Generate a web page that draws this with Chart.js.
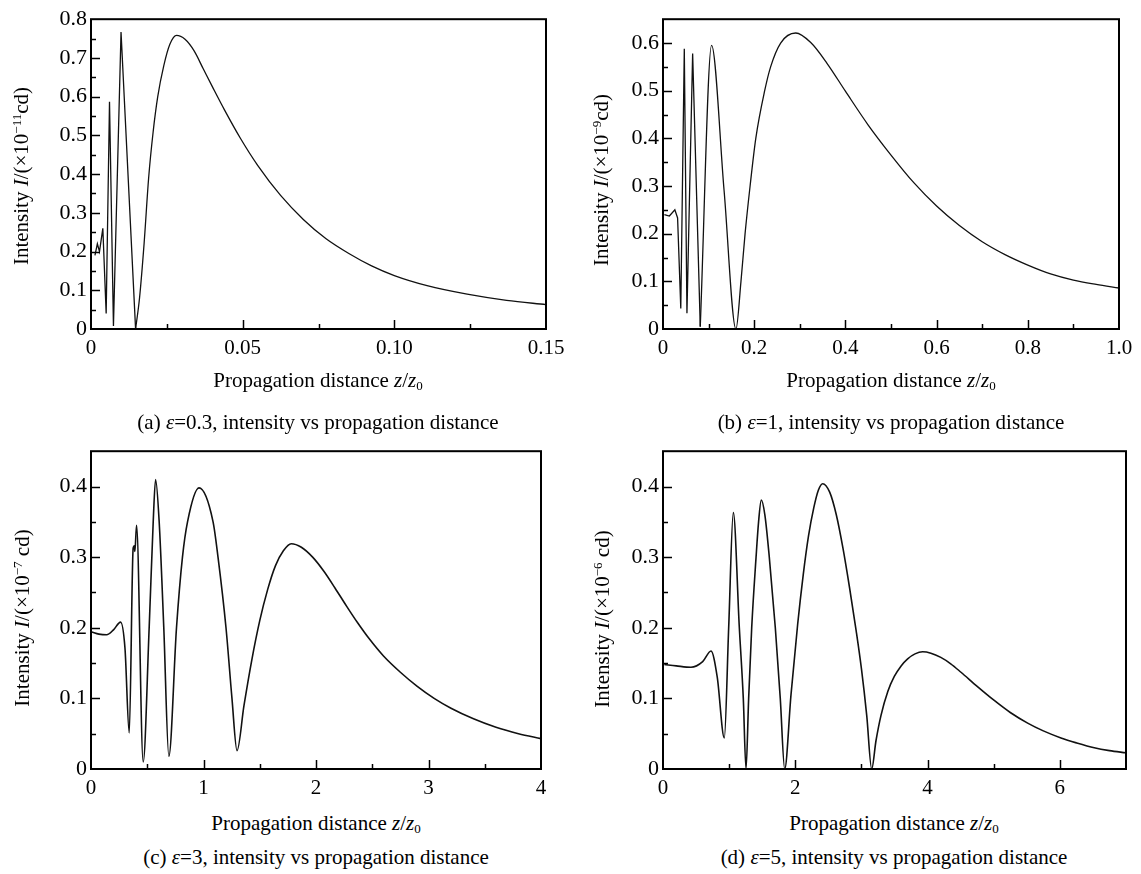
<!DOCTYPE html>
<html>
<head>
<meta charset="utf-8">
<script src="https://cdn.jsdelivr.net/npm/chart.js@4.4.1/dist/chart.umd.min.js"></script>
<style>
  html, body { margin: 0; padding: 0; background: #fff; }
  body { width: 1141px; height: 874px; position: relative; overflow: hidden;
         font-family: "Liberation Serif", "Times New Roman", serif; color: #000; }
  canvas { position: absolute; }
  .t { position: absolute; white-space: nowrap; font-size: 21px; line-height: 21px; }
  .xt, .cap { transform: translateX(-50%); }
  .yt { transform: translate(-50%, -50%) rotate(-90deg); }
  sup { font-size: 0.62em; vertical-align: 0.5em; line-height: 0; }
  sub { font-size: 0.62em; vertical-align: -0.25em; line-height: 0; }
</style>
</head>
<body>
<canvas id="ca"></canvas>
<canvas id="cb"></canvas>
<canvas id="cc"></canvas>
<canvas id="cd"></canvas>

<div class="t yt" style="left:21px; top:176px;">Intensity <i>I</i>/(×10<sup>−11</sup>cd)</div>
<div class="t xt" style="left:318px; top:370px;">Propagation distance <i>z</i>/<i>z</i><sub>0</sub></div>
<div class="t cap" style="left:318px; top:412px;">(a) <i>ε</i>=0.3, intensity vs propagation distance</div>

<div class="t yt" style="left:601px; top:180px;">Intensity <i>I</i>/(×10<sup>−9</sup>cd)</div>
<div class="t xt" style="left:891px; top:370px;">Propagation distance <i>z</i>/<i>z</i><sub>0</sub></div>
<div class="t cap" style="left:891px; top:412px;">(b) <i>ε</i>=1, intensity vs propagation distance</div>

<div class="t yt" style="left:22px; top:618px;">Intensity <i>I</i>/(×10<sup>−7</sup> cd)</div>
<div class="t xt" style="left:316px; top:813px;">Propagation distance <i>z</i>/<i>z</i><sub>0</sub></div>
<div class="t cap" style="left:316px; top:847px;">(c) <i>ε</i>=3, intensity vs propagation distance</div>

<div class="t yt" style="left:602px; top:619px;">Intensity <i>I</i>/(×10<sup>−6</sup> cd)</div>
<div class="t xt" style="left:894px; top:813px;">Propagation distance <i>z</i>/<i>z</i><sub>0</sub></div>
<div class="t cap" style="left:894px; top:847px;">(d) <i>ε</i>=5, intensity vs propagation distance</div>

<script>
// ---------- data ----------
// (a) epsilon = 0.3, intensity in 1e-11 cd
const aX = [0.0013, 0.0021, 0.0028, 0.0039, 0.0050, 0.0061, 0.0074, 0.0099, 0.0147,
            0.0160, 0.0175, 0.0190, 0.0205, 0.0220, 0.0240, 0.0260, 0.0282, 0.0310, 0.0340,
            0.0370, 0.0400, 0.0440, 0.0493, 0.0550, 0.0625, 0.0700, 0.0775, 0.0850, 0.0925,
            0.1000, 0.1108, 0.124, 0.137, 0.150];
const aY = [0.19, 0.22, 0.20, 0.26, 0.04, 0.587, 0.008, 0.767, 0.0,
            0.08, 0.22, 0.39, 0.51, 0.60, 0.68, 0.735, 0.758, 0.748, 0.718,
            0.672, 0.626, 0.566, 0.492, 0.422, 0.345, 0.283, 0.233, 0.195, 0.163,
            0.138, 0.112, 0.090, 0.074, 0.063];
// (b) epsilon = 1, intensity in 1e-9 cd
const bX = [0.003, 0.014, 0.026, 0.032, 0.039, 0.0467, 0.0525, 0.065, 0.0817,
            0.1065, 0.134, 0.160, 0.171, 0.180, 0.191, 0.2035, 0.223, 0.236, 0.258, 0.291,
            0.324, 0.36, 0.40, 0.45, 0.50, 0.55, 0.60, 0.65, 0.70, 0.75, 0.80,
            0.85, 0.90, 0.95, 1.0];
const bY = [0.240, 0.237, 0.250, 0.233, 0.043, 0.588, 0.033, 0.578, 0.005,
            0.595, 0.29, 0.0, 0.10, 0.20, 0.30, 0.40, 0.50, 0.55, 0.60, 0.621,
            0.601, 0.557, 0.499, 0.428, 0.365, 0.307, 0.258, 0.217, 0.183, 0.156, 0.134,
            0.1155, 0.1025, 0.0935, 0.086];
// (c) epsilon = 3, intensity in 1e-7 cd
const cX = [0.006, 0.07, 0.139, 0.2, 0.263, 0.302, 0.34, 0.375, 0.385, 0.39, 0.405, 0.464,
            0.517, 0.553, 0.574, 0.606, 0.647, 0.692, 0.76, 0.813, 0.858, 0.96, 1.085, 1.129,
            1.2, 1.253, 1.298, 1.36, 1.43, 1.50, 1.57, 1.64, 1.71, 1.78, 1.87, 1.97, 2.07,
            2.17, 2.27, 2.37, 2.47, 2.6, 2.75, 2.9, 3.05, 3.2, 3.4, 3.6, 3.8, 4.0];
const cY = [0.194, 0.191, 0.190, 0.197, 0.208, 0.171, 0.051, 0.313, 0.316, 0.308, 0.345, 0.01,
            0.2, 0.35, 0.41, 0.35, 0.2, 0.018, 0.2, 0.3, 0.35, 0.398, 0.35, 0.3,
            0.2, 0.1, 0.026, 0.09, 0.155, 0.210, 0.254, 0.288, 0.309, 0.319, 0.314, 0.300, 0.280,
            0.256, 0.231, 0.207, 0.185, 0.160, 0.137, 0.117, 0.100, 0.086, 0.071, 0.059, 0.050, 0.043];
// (d) epsilon = 5, intensity in 1e-6 cd
const dX = [0.02, 0.2, 0.423, 0.6, 0.726, 0.82, 0.927, 0.993, 1.063, 1.154, 1.214, 1.255,
            1.295, 1.341, 1.407, 1.445, 1.486, 1.54, 1.607, 1.698, 1.773, 1.84,
            1.935, 2.036, 2.12, 2.2, 2.28, 2.35, 2.414, 2.52, 2.62, 2.72, 2.82, 2.92, 3.00,
            3.08, 3.155, 3.22, 3.296, 3.4, 3.497, 3.6, 3.699, 3.81, 3.926, 4.05, 4.2, 4.35,
            4.505, 4.75, 5.008, 5.25, 5.513, 5.75, 6.017, 6.25, 6.52, 6.75, 7.0];
const dY = [0.148, 0.146, 0.144, 0.152, 0.167, 0.13, 0.044, 0.2, 0.363, 0.2, 0.1, 0.0,
            0.1, 0.2, 0.3, 0.35, 0.381, 0.36, 0.3, 0.2, 0.1, 0.0,
            0.105, 0.205, 0.275, 0.33, 0.37, 0.395, 0.404, 0.392, 0.360, 0.313, 0.257, 0.196, 0.142,
            0.076, 0.0, 0.04, 0.076, 0.11, 0.131, 0.146, 0.156, 0.163, 0.166, 0.164, 0.158, 0.149,
            0.137, 0.117, 0.097, 0.080, 0.065, 0.054, 0.044, 0.037, 0.030, 0.026, 0.023];

// ---------- tick labels ----------
const aXTickVals = [0, 0.05, 0.10, 0.15];
const aXTicks = ["0", "0.05", "0.10", "0.15"];
const aYTickVals = [0, 0.1, 0.2, 0.3, 0.4, 0.5, 0.6, 0.7, 0.8];
const aYTicks = ["0", "0.1", "0.2", "0.3", "0.4", "0.5", "0.6", "0.7", "0.8"];

const bXTickVals = [0, 0.2, 0.4, 0.6, 0.8, 1.0];
const bXTicks = ["0", "0.2", "0.4", "0.6", "0.8", "1.0"];
const bYTickVals = [0, 0.1, 0.2, 0.3, 0.4, 0.5, 0.6];
const bYTicks = ["0", "0.1", "0.2", "0.3", "0.4", "0.5", "0.6"];

const cXTickVals = [0, 1, 2, 3, 4];
const cXTicks = ["0", "1", "2", "3", "4"];
const cYTickVals = [0, 0.1, 0.2, 0.3, 0.4];
const cYTicks = ["0", "0.1", "0.2", "0.3", "0.4"];

const dXTickVals = [0, 2, 4, 6];
const dXTicks = ["0", "2", "4", "6"];
const dYTickVals = [0, 0.1, 0.2, 0.3, 0.4];
const dYTicks = ["0", "0.1", "0.2", "0.3", "0.4"];

// ---------- drawing ----------
const FONT = '"Liberation Serif", "Times New Roman", serif';
const PADL = 60, PADT = 12, PADR = 30, PADB = 40;

function isMajor(v, majors) { return majors.some(m => Math.abs(m - v) < 1e-7); }

const frame = {
  id: 'frame',
  afterDatasetsDraw(chart, args, opts) {
    const ctx = chart.ctx, a = chart.chartArea;
    ctx.save();
    ctx.strokeStyle = '#000';
    ctx.lineWidth = 1.5;
    const xs = chart.scales.x, ys = chart.scales.y;
    xs.ticks.forEach(t => {
      if (Math.abs(t.value - xs.min) < 1e-9 || Math.abs(t.value - xs.max) < 1e-9) return;
      const len = isMajor(t.value, opts.xMaj) ? 9 : 5;
      const p = Math.round(xs.getPixelForValue(t.value)) + 0.5;
      ctx.beginPath(); ctx.moveTo(p, a.bottom); ctx.lineTo(p, a.bottom - len); ctx.stroke();
    });
    ys.ticks.forEach(t => {
      if (Math.abs(t.value - ys.min) < 1e-9 || Math.abs(t.value - ys.max) < 1e-9) return;
      const len = isMajor(t.value, opts.yMaj) ? 9 : 5;
      const p = Math.round(ys.getPixelForValue(t.value)) + 0.5;
      ctx.beginPath(); ctx.moveTo(a.left, p); ctx.lineTo(a.left + len, p); ctx.stroke();
    });
    ctx.lineWidth = 2;
    ctx.strokeRect(a.left, a.top, a.right - a.left, a.bottom - a.top);
    ctx.restore();
  }
};

function panel(id, box, xs, ys, linearUntil, lw, xr, yr) {
  const cv = document.getElementById(id);
  const W = box.R - box.L + PADL + PADR, H = box.B - box.T + PADT + PADB;
  cv.width = W; cv.height = H;
  cv.style.left = (box.L - PADL) + 'px';
  cv.style.top = (box.T - PADT) + 'px';
  cv.style.width = W + 'px'; cv.style.height = H + 'px';

  const pts = xs.map((x, i) => ({ x: x, y: ys[i] }));
  const base = { borderColor: '#111', borderWidth: lw, pointRadius: 0, fill: false };
  const datasets = [];
  if (linearUntil > 0) {
    datasets.push(Object.assign({}, base, { data: pts.slice(0, linearUntil + 1), tension: 0 }));
    datasets.push(Object.assign({}, base, { data: pts.slice(linearUntil), cubicInterpolationMode: 'monotone' }));
  } else {
    datasets.push(Object.assign({}, base, { data: pts, cubicInterpolationMode: 'monotone' }));
  }

  new Chart(cv, {
    type: 'line',
    data: { datasets: datasets },
    options: {
      responsive: false, maintainAspectRatio: false, devicePixelRatio: 1, animation: false,
      events: [],
      layout: { padding: { left: 0, top: PADT, right: PADR, bottom: 0 } },
      plugins: { legend: { display: false }, tooltip: { enabled: false }, title: { display: false },
                 frame: { xMaj: xr.vals, yMaj: yr.vals } },
      scales: {
        x: {
          type: 'linear', min: xr.min, max: xr.max,
          grid: { display: false, drawTicks: false }, border: { display: false },
          afterFit: s => { s.height = PADB; },
          ticks: {
            stepSize: xr.step, autoSkip: false, maxRotation: 0, minRotation: 0,
            padding: 7, color: '#000', font: { family: FONT, size: 21 },
            callback: v => { const i = xr.vals.findIndex(m => Math.abs(m - v) < 1e-7); return i >= 0 ? xr.labels[i] : ''; }
          }
        },
        y: {
          type: 'linear', min: 0, max: yr.max,
          grid: { display: false, drawTicks: false }, border: { display: false },
          afterFit: s => { s.width = PADL; },
          ticks: {
            stepSize: yr.step, autoSkip: false, padding: 4, color: '#000',
            font: { family: FONT, size: 22 },
            callback: v => { const i = yr.vals.findIndex(m => Math.abs(m - v) < 1e-7); return i >= 0 ? yr.labels[i] : ''; }
          }
        }
      }
    },
    plugins: [frame]
  });
}

panel('ca', { L: 91, R: 546, T: 14, B: 329 }, aX, aY, 8, 1.3,
      { min: 0, max: 0.15, step: 0.025, vals: aXTickVals, labels: aXTicks },
      { max: 0.8, step: 0.05, vals: aYTickVals, labels: aYTicks });
panel('cb', { L: 663, R: 1119, T: 14, B: 329 }, bX, bY, 8, 1.3,
      { min: 0, max: 1.0, step: 0.1, vals: bXTickVals, labels: bXTicks },
      { max: 0.65, step: 0.05, vals: bYTickVals, labels: bYTicks });
panel('cc', { L: 91, R: 541, T: 446, B: 769 }, cX, cY, 0, 1.6,
      { min: 0, max: 4, step: 0.5, vals: cXTickVals, labels: cXTicks },
      { max: 0.45, step: 0.05, vals: cYTickVals, labels: cYTicks });
panel('cd', { L: 663, R: 1126, T: 446, B: 769 }, dX, dY, 0, 1.6,
      { min: 0, max: 7, step: 1, vals: dXTickVals, labels: dXTicks },
      { max: 0.45, step: 0.05, vals: dYTickVals, labels: dYTicks });
</script>
</body>
</html>
